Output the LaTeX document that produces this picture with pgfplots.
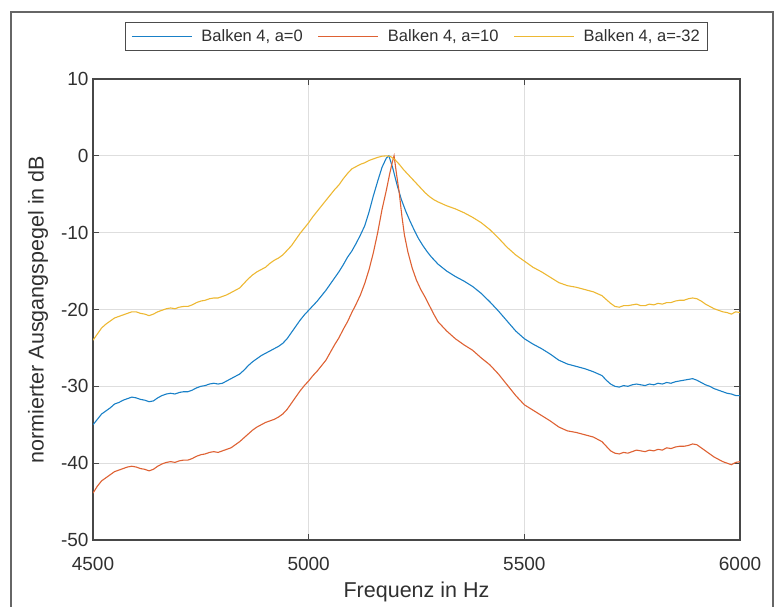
\documentclass[border=0pt]{standalone}
\usepackage{pgfplots}
\pgfplotsset{compat=1.18}
\usepackage{fontspec}
\setmainfont{Liberation Sans}
\definecolor{mblue}{rgb}{0.1,0.5,0.78}
\definecolor{morange}{rgb}{0.87,0.38,0.2}
\definecolor{myellow}{rgb}{0.93,0.72,0.2}
\definecolor{txt}{HTML}{303030}
\begin{document}
\begin{tikzpicture}
\useasboundingbox (0pt,0pt) rectangle (776pt,606pt);
\draw[line width=1.3pt, color=black!60] (11pt,-5pt) -- (11pt,594pt) -- (773pt,594pt) -- (773pt,-5pt);
\begin{axis}[
  at={(93pt,66pt)}, anchor=south west,
  scale only axis, width=647pt, height=461pt,
  xmin=4500, xmax=6000, ymin=-50, ymax=10,
  xtick={4500,5000,5500,6000}, ytick={-50,-40,-30,-20,-10,0,10},
  /pgf/number format/assume math mode=true,
  /pgf/number format/set thousands separator={},
  grid=major,
  major grid style={color=black!13, line width=0.8pt},
  axis line style={color=black!72, line width=1.1pt},
  tick style={color=black!72, line width=0.9pt},
  major tick length=6pt,
  tick align=inside,
  ticklabel style={font=\fontsize{19}{22}\selectfont, text=txt},
  xticklabel style={anchor=base, yshift=-30pt},
  yticklabel style={xshift=-1pt},
  xlabel={Frequenz in Hz},
  ylabel={normierter Ausgangspegel in dB},
  label style={font=\fontsize{21.5}{24}\selectfont, text=txt},
  xlabel style={at={(axis description cs:0.5,0)}, anchor=base, yshift=-57pt},
  ylabel style={at={(axis description cs:-0.085,0.5)}, anchor=center},
  legend columns=3,
  legend style={at={(axis description cs:0.5,1)}, anchor=center, yshift=42.5pt,
    draw=black!70, line width=0.9pt, font=\fontsize{16.5}{19}\selectfont, text=txt,
    inner xsep=6pt, inner ysep=5pt,
    /tikz/every odd column/.append style={column sep=7pt},
    /tikz/every even column/.append style={column sep=13pt}},
  legend image code/.code={\draw[#1, line width=1.2pt] (0pt,0pt) -- (60pt,0pt);},
  every axis plot/.append style={line width=1.1pt, mark=none},
]
\addplot[mblue] coordinates {
(4500,-35.0)(4510,-34.3)(4520,-33.6)(4530,-33.2)(4540,-32.8)(4550,-32.3)(4560,-32.1)(4570,-31.8)(4580,-31.6)(4590,-31.4)
(4600,-31.5)(4610,-31.7)(4620,-31.8)(4630,-32.0)(4640,-31.9)(4650,-31.5)(4660,-31.2)(4670,-31.0)(4680,-30.9)(4690,-31.0)
(4700,-30.8)(4710,-30.7)(4720,-30.7)(4730,-30.5)(4740,-30.2)(4750,-30.0)(4760,-29.9)(4770,-29.7)(4780,-29.6)(4790,-29.7)
(4800,-29.6)(4810,-29.3)(4820,-29.0)(4830,-28.7)(4840,-28.4)(4850,-27.9)(4860,-27.3)(4870,-26.8)(4880,-26.4)(4890,-26.0)
(4900,-25.7)(4910,-25.4)(4920,-25.1)(4930,-24.8)(4940,-24.4)(4950,-23.8)(4960,-23.0)(4970,-22.2)(4980,-21.4)(4990,-20.7)
(5000,-20.1)(5010,-19.5)(5020,-18.9)(5030,-18.2)(5040,-17.5)(5050,-16.7)(5060,-15.9)(5070,-15.1)(5080,-14.2)(5090,-13.2)
(5100,-12.4)(5110,-11.4)(5120,-10.3)(5130,-9.1)(5140,-7.3)(5150,-5.2)(5160,-3.3)(5170,-1.5)(5180,-0.3)(5186,0.0)
(5195,-1.6)(5205,-3.8)(5215,-5.7)(5225,-7.2)(5235,-8.5)(5245,-9.7)(5255,-10.8)(5265,-11.7)(5275,-12.5)(5285,-13.2)
(5300,-14.1)(5320,-15.0)(5340,-15.7)(5360,-16.3)(5380,-17.0)(5400,-17.9)(5420,-19.0)(5440,-20.2)(5460,-21.5)(5480,-22.8)
(5500,-23.8)(5520,-24.5)(5540,-25.1)(5560,-25.8)(5580,-26.6)(5600,-27.1)(5620,-27.4)(5640,-27.7)(5660,-28.1)(5680,-28.6)
(5690,-29.2)(5700,-29.7)(5710,-30.0)(5720,-30.1)(5730,-29.9)(5740,-30.0)(5750,-29.8)(5760,-29.7)(5770,-29.8)(5780,-29.9)
(5790,-29.7)(5800,-29.8)(5810,-29.6)(5820,-29.7)(5830,-29.5)(5840,-29.6)(5850,-29.4)(5860,-29.3)(5870,-29.2)(5880,-29.1)
(5890,-29.0)(5900,-29.2)(5910,-29.5)(5920,-29.8)(5930,-30.0)(5940,-30.3)(5950,-30.5)(5960,-30.7)(5970,-30.9)(5980,-31.0)
(5990,-31.2)(6000,-31.2)
};
\addlegendentry{Balken 4, a=0}
\addplot[morange] coordinates {
(4500,-43.9)(4510,-43.0)(4520,-42.3)(4530,-41.9)(4540,-41.5)(4550,-41.1)(4560,-40.9)(4570,-40.7)(4580,-40.5)(4590,-40.4)
(4600,-40.5)(4610,-40.7)(4620,-40.8)(4630,-41.0)(4640,-40.8)(4650,-40.4)(4660,-40.1)(4670,-39.9)(4680,-39.8)(4690,-39.9)
(4700,-39.7)(4710,-39.6)(4720,-39.6)(4730,-39.4)(4740,-39.1)(4750,-38.9)(4760,-38.8)(4770,-38.6)(4780,-38.5)(4790,-38.6)
(4800,-38.4)(4810,-38.2)(4820,-38.0)(4830,-37.6)(4840,-37.2)(4850,-36.7)(4860,-36.2)(4870,-35.7)(4880,-35.3)(4890,-35.0)
(4900,-34.7)(4910,-34.5)(4920,-34.3)(4930,-34.0)(4940,-33.6)(4950,-33.0)(4960,-32.2)(4970,-31.4)(4980,-30.6)(4990,-29.9)
(5000,-29.3)(5010,-28.6)(5020,-28.0)(5030,-27.3)(5040,-26.6)(5050,-25.6)(5060,-24.6)(5070,-23.7)(5080,-22.6)(5090,-21.6)
(5100,-20.4)(5110,-19.3)(5120,-18.1)(5130,-16.6)(5140,-14.8)(5150,-12.6)(5160,-10.0)(5170,-7.0)(5180,-4.5)(5188,-2.3)
(5194,-0.8)(5198,0.0)(5204,-2.5)(5210,-4.8)(5216,-7.8)(5222,-10.3)(5230,-12.5)(5240,-14.6)(5250,-16.2)(5260,-17.4)
(5270,-18.4)(5280,-19.5)(5290,-20.6)(5300,-21.6)(5320,-22.8)(5340,-23.8)(5360,-24.6)(5380,-25.3)(5400,-26.3)(5420,-27.2)
(5440,-28.4)(5460,-29.8)(5480,-31.2)(5500,-32.4)(5520,-33.1)(5540,-33.8)(5560,-34.5)(5580,-35.3)(5600,-35.8)(5620,-36.0)
(5640,-36.3)(5660,-36.6)(5680,-37.2)(5690,-37.8)(5700,-38.4)(5710,-38.7)(5720,-38.8)(5730,-38.6)(5740,-38.7)(5750,-38.5)
(5760,-38.3)(5770,-38.4)(5780,-38.5)(5790,-38.3)(5800,-38.4)(5810,-38.2)(5820,-38.3)(5830,-38.0)(5840,-38.1)(5850,-37.9)
(5860,-37.8)(5870,-37.8)(5880,-37.7)(5890,-37.5)(5900,-37.6)(5910,-38.0)(5920,-38.4)(5930,-38.8)(5940,-39.2)(5950,-39.5)
(5960,-39.8)(5970,-40.0)(5980,-40.2)(5990,-39.9)(6000,-39.8)
};
\addlegendentry{Balken 4, a=10}
\addplot[myellow] coordinates {
(4500,-24.0)(4510,-23.2)(4520,-22.4)(4530,-21.9)(4540,-21.5)(4550,-21.1)(4560,-20.9)(4570,-20.7)(4580,-20.5)(4590,-20.3)
(4600,-20.3)(4610,-20.5)(4620,-20.6)(4630,-20.8)(4640,-20.6)(4650,-20.3)(4660,-20.1)(4670,-19.9)(4680,-19.8)(4690,-19.9)
(4700,-19.7)(4710,-19.6)(4720,-19.6)(4730,-19.4)(4740,-19.1)(4750,-18.9)(4760,-18.8)(4770,-18.6)(4780,-18.5)(4790,-18.5)
(4800,-18.3)(4810,-18.1)(4820,-17.8)(4830,-17.5)(4840,-17.2)(4850,-16.6)(4860,-16.0)(4870,-15.5)(4880,-15.1)(4890,-14.8)
(4900,-14.5)(4910,-14.0)(4920,-13.6)(4930,-13.3)(4940,-12.9)(4950,-12.3)(4960,-11.7)(4970,-10.9)(4980,-10.1)(4990,-9.4)
(5000,-8.7)(5010,-7.9)(5020,-7.2)(5030,-6.5)(5040,-5.8)(5050,-5.1)(5060,-4.4)(5070,-3.8)(5080,-3.0)(5090,-2.3)
(5100,-1.7)(5110,-1.4)(5120,-1.1)(5130,-0.9)(5140,-0.6)(5150,-0.4)(5160,-0.2)(5170,-0.05)(5180,0.0)(5190,-0.1)
(5200,-0.5)(5210,-1.1)(5220,-1.8)(5230,-2.4)(5240,-3.0)(5250,-3.6)(5260,-4.2)(5270,-4.8)(5280,-5.3)(5290,-5.7)
(5300,-6.0)(5320,-6.5)(5340,-6.9)(5360,-7.4)(5380,-8.0)(5400,-8.7)(5420,-9.6)(5440,-10.7)(5460,-11.9)(5480,-12.9)
(5500,-13.7)(5520,-14.5)(5540,-15.1)(5560,-15.8)(5580,-16.5)(5600,-16.9)(5620,-17.1)(5640,-17.4)(5660,-17.7)(5680,-18.2)
(5690,-18.7)(5700,-19.2)(5710,-19.6)(5720,-19.7)(5730,-19.5)(5740,-19.5)(5750,-19.4)(5760,-19.3)(5770,-19.5)(5780,-19.5)
(5790,-19.3)(5800,-19.4)(5810,-19.2)(5820,-19.3)(5830,-19.1)(5840,-19.1)(5850,-18.9)(5860,-18.8)(5870,-18.8)(5880,-18.6)
(5890,-18.5)(5900,-18.6)(5910,-18.9)(5920,-19.3)(5930,-19.6)(5940,-19.9)(5950,-20.1)(5960,-20.3)(5970,-20.4)(5980,-20.6)
(5990,-20.3)(6000,-20.4)
};
\addlegendentry{Balken 4, a=-32}
\end{axis}
\end{tikzpicture}
\end{document}
